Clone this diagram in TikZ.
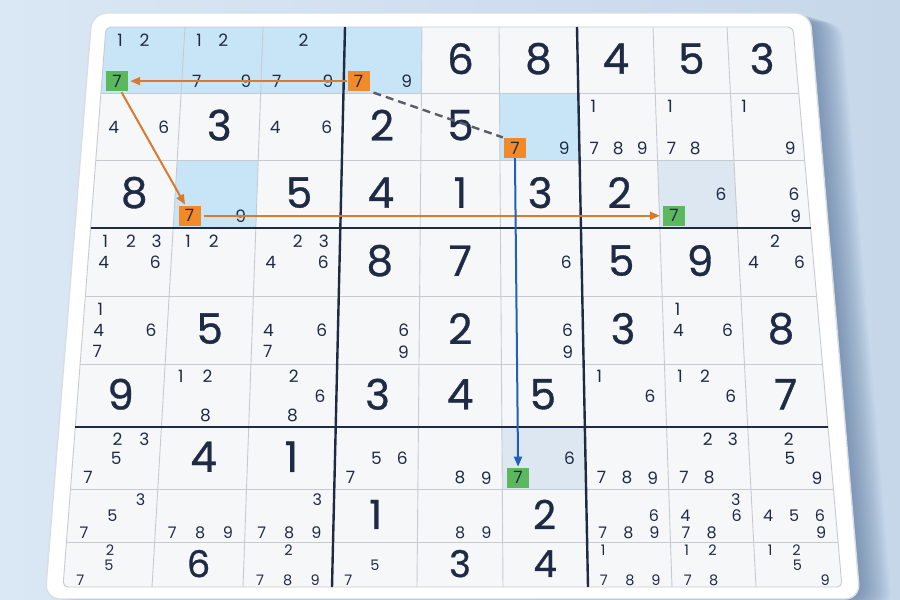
\documentclass[tikz,border=0pt]{standalone}
\usepackage{fontspec}
\setmainfont{Poppins}
\newfontfamily\bigf{Poppins}[FakeBold=0.8]
\usetikzlibrary{arrows.meta}
\definecolor{bgl}{HTML}{DAE7F4}
\definecolor{bgr}{HTML}{C6D7EA}
\definecolor{shadc}{HTML}{45658F}
\definecolor{navy}{HTML}{1F2B45}
\definecolor{gridc}{HTML}{C6CBD2}
\definecolor{cellbg}{HTML}{F6F7F9}
\definecolor{hlblue}{HTML}{C8E5F8}
\definecolor{hlgrey}{HTML}{DCE7F1}
\definecolor{orbox}{HTML}{F28A2A}
\definecolor{grbox}{HTML}{5CB85C}
\definecolor{orline}{HTML}{D97A2C}
\definecolor{blline}{HTML}{2161B3}
\definecolor{dashc}{HTML}{5A5F66}
\definecolor{rimc}{HTML}{D8DEE6}

\def\XT{{106,185,263,345,422,499,577,653,727,793}}
\def\XB{{63,152,243,332,417,503,588,672,756,842}}
\def\YY{{27,93,160,228,296,364,427,489,542,587}}

\newcommand\gpt[4]{%
 \pgfmathtruncatemacro\gia{#1-1}%
 \pgfmathtruncatemacro\gja{#2-1}%
 \pgfmathsetmacro\gya{\YY[\gja]}%
 \pgfmathsetmacro\gyb{\YY[#2]}%
 \pgfmathsetmacro\gpy{\gya+(#4)*(\gyb-\gya)}%
 \pgfmathsetmacro\gtt{(\gpy-27)/560}%
 \pgfmathsetmacro\gxl{\XT[\gia]+\gtt*(\XB[\gia]-\XT[\gia])}%
 \pgfmathsetmacro\gxr{\XT[#1]+\gtt*(\XB[#1]-\XT[#1])}%
 \pgfmathsetmacro\gpx{\gxl+(#3)*(\gxr-\gxl)}%
}
\newcommand\cellfill[3]{%
 \gpt{#1}{#2}{0}{0}\coordinate (qa) at (\gpx,\gpy);%
 \gpt{#1}{#2}{1}{0}\coordinate (qb) at (\gpx,\gpy);%
 \gpt{#1}{#2}{1}{1}\coordinate (qc) at (\gpx,\gpy);%
 \gpt{#1}{#2}{0}{1}\coordinate (qd) at (\gpx,\gpy);%
 \fill[#3] (qa) -- (qb) -- (qc) -- (qd) -- cycle;}
\newcommand\cand[3]{%
 \pgfmathsetmacro\cfs{#1==9 ? 14.5 : (#1==8 ? 16 : 17)}%
 \pgfmathsetmacro\cst{#1==9 ? 0.335 : 0.31}%
 \pgfmathsetmacro\cfy{#1==9 ? 0.18 : 0.2}%
 \foreach \n in {#3}{%
  \pgfmathtruncatemacro\candc{mod(\n-1,3)}%
  \pgfmathtruncatemacro\candr{div(\n-1,3)}%
  \gpt{#2}{#1}{0.19+0.31*\candc}{\cfy+\cst*\candr}%
  \node[cd, font=\fontsize{\cfs}{\cfs}\selectfont] at (\gpx,\gpy) {\n};}}
\newcommand\bigd[3]{%
 \pgfmathsetmacro\bfs{#1==9 ? 37 : (#1==8 ? 40 : 42)}%
 \gpt{#2}{#1}{0.5}{0.48}%
 \node[bd, font=\bigf\fontsize{\bfs}{\bfs}\selectfont] at (\gpx,\gpy) {#3};}
\newcommand\hlbox[4]{%
 \gpt{#2}{#1}{0.19}{0.82}%
 \node[hb, fill=#3] (#4) at (\gpx,\gpy) {7};}

\begin{document}
\begin{tikzpicture}[x=1pt,y=-1pt,
  cd/.style={text=navy, inner sep=0pt},
  bd/.style={text=navy, inner sep=0pt},
  hb/.style={font=\fontsize{17}{17}\selectfont, text=navy, inner sep=0pt, minimum width=22pt, minimum height=20pt},
  thinl/.style={draw=gridc, line width=0.9pt},
  thickl/.style={draw=navy, line width=2.4pt},
  oarr/.style={draw=orline, line width=2pt, -{Triangle[length=10pt,width=8pt]}},
  barr/.style={draw=blline, line width=2pt, -{Triangle[length=10pt,width=8pt]}},
  dline/.style={draw=dashc, line width=2.4pt, dash pattern=on 8pt off 5pt}]
\useasboundingbox (0,0) rectangle (900,600);
\shade[left color=bgl, right color=bgr] (0,0) rectangle (900,600);
% shadow
\foreach \i in {1,...,16}{
  \fill[shadc, fill opacity=0.045, rounded corners=16pt, shift={(\i*2,\i*0.6)}]
    (92,13) -- (810,13) -- (860,599) -- (45,599) -- cycle;}
% panel
\fill[white, rounded corners=15pt] (92,13) -- (810,13) -- (860,599) -- (45,599) -- cycle;
\draw[rimc, line width=1.4pt, rounded corners=15pt] (92,13) -- (810,13) -- (860,599) -- (45,599) -- cycle;
% grid background
\begin{scope}
\clip[rounded corners=5pt] (106,27) -- (793,27) -- (842,587) -- (63,587) -- cycle;
\fill[cellbg] (0,0) rectangle (900,600);
\cellfill{1}{1}{hlblue}\cellfill{2}{1}{hlblue}\cellfill{3}{1}{hlblue}\cellfill{4}{1}{hlblue}
\cellfill{6}{2}{hlblue}\cellfill{2}{3}{hlblue}
\cellfill{8}{3}{hlgrey}\cellfill{6}{7}{hlgrey}
\end{scope}
% thin lines
\foreach \k in {1,2,4,5,7,8}{
  \pgfmathsetmacro\xa{\XT[\k]}\pgfmathsetmacro\xb{\XB[\k]}
  \draw[thinl] (\xa,27) -- (\xb,587);}
\foreach \j in {1,2,4,5,7,8}{
  \pgfmathsetmacro\yj{\YY[\j]}\pgfmathsetmacro\tj{(\yj-27)/560}
  \draw[thinl] (106-43*\tj,\yj) -- (793+49*\tj,\yj);}
\draw[thinl, rounded corners=5pt] (106,27) -- (793,27) -- (842,587) -- (63,587) -- cycle;
% thick lines
\foreach \k in {3,6}{
  \pgfmathsetmacro\xa{\XT[\k]}\pgfmathsetmacro\xb{\XB[\k]}
  \draw[thickl] (\xa,27) -- (\xb,587);}
\foreach \j in {3,6}{
  \pgfmathsetmacro\yj{\YY[\j]}\pgfmathsetmacro\tj{(\yj-27)/560}
  \draw[thickl] (106-43*\tj,\yj) -- (793+49*\tj,\yj);}
% given digits
\foreach \r/\c/\d in {1/5/6,1/6/8,1/7/4,1/8/5,1/9/3,
  2/2/3,2/4/2,2/5/5,
  3/1/8,3/3/5,3/4/4,3/5/1,3/6/3,3/7/2,
  4/4/8,4/5/7,4/7/5,4/8/9,
  5/2/5,5/5/2,5/7/3,5/9/8,
  6/1/9,6/4/3,6/5/4,6/6/5,6/9/7,
  7/2/4,7/3/1,
  8/4/1,8/6/2,
  9/2/6,9/5/3,9/6/4}{\bigd{\r}{\c}{\d}}
% candidates
\cand{1}{1}{1,2}\cand{1}{2}{1,2,7,9}\cand{1}{3}{2,7,9}\cand{1}{4}{9}
\cand{2}{1}{4,6}\cand{2}{3}{4,6}\cand{2}{6}{9}\cand{2}{7}{1,7,8,9}\cand{2}{8}{1,7,8}\cand{2}{9}{1,9}
\cand{3}{2}{9}\cand{3}{8}{6}\cand{3}{9}{6,9}
\cand{4}{1}{1,2,3,4,6}\cand{4}{2}{1,2}\cand{4}{3}{2,3,4,6}\cand{4}{6}{6}\cand{4}{9}{2,4,6}
\cand{5}{1}{1,4,6,7}\cand{5}{3}{4,6,7}\cand{5}{4}{6,9}\cand{5}{6}{6,9}\cand{5}{8}{1,4,6}
\cand{6}{2}{1,2,8}\cand{6}{3}{2,6,8}\cand{6}{7}{1,6}\cand{6}{8}{1,2,6}
\cand{7}{1}{2,3,5,7}\cand{7}{4}{5,6,7}\cand{7}{5}{8,9}\cand{7}{6}{6}\cand{7}{7}{7,8,9}\cand{7}{8}{2,3,7,8}\cand{7}{9}{2,5,9}
\cand{8}{1}{3,5,7}\cand{8}{2}{7,8,9}\cand{8}{3}{3,7,8,9}\cand{8}{5}{8,9}\cand{8}{7}{6,7,8,9}\cand{8}{8}{3,4,6,7,8}\cand{8}{9}{4,5,6,9}
\cand{9}{1}{2,5,7}\cand{9}{3}{2,7,8,9}\cand{9}{4}{5,7}\cand{9}{7}{1,7,8,9}\cand{9}{8}{1,2,7,8}\cand{9}{9}{1,2,5,9}
% highlighted 7s
\hlbox{1}{1}{grbox}{g1}
\hlbox{1}{4}{orbox}{o1}
\hlbox{3}{2}{orbox}{o2}
\hlbox{3}{8}{grbox}{g2}
\hlbox{2}{6}{orbox}{o3}
\hlbox{7}{6}{grbox}{g3}
% connectors
\draw[oarr, shorten >=2pt] (o1.west) -- (g1.east);
\draw[oarr, shorten <=1pt, shorten >=1pt] ([xshift=4pt]g1.south) -- ([xshift=-4pt]o2.north);
\draw[oarr, shorten <=3pt, shorten >=3pt] (o2.east) -- (g2.west);
\draw[dline, shorten <=4pt, shorten >=1pt] (o1.south east) -- (o3.north west);
\draw[barr, shorten >=1pt] (o3.south) -- (g3.north);
\end{tikzpicture}
\end{document}
